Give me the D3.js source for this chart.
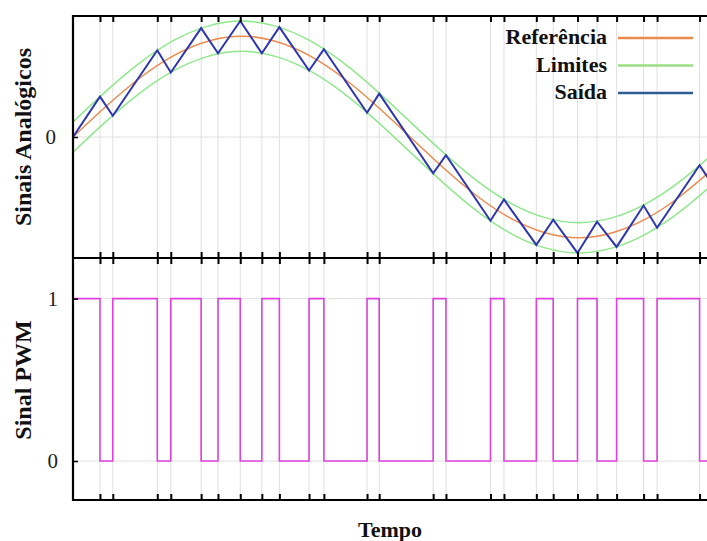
<!DOCTYPE html>
<html>
<head>
<meta charset="utf-8">
<script src="https://cdn.jsdelivr.net/npm/d3@7"></script>
<style>
  body { margin: 0; background: #fff; }
</style>
</head>
<body>
<svg id="chart" width="707" height="541"></svg>
<script>
// tempo em periodos da senoide de referencia
var refT = [0, 0.05, 0.1, 0.15, 0.2, 0.25, 0.3, 0.35, 0.4, 0.45, 0.5, 0.55, 0.6, 0.65, 0.7, 0.75, 0.8, 0.85, 0.9, 0.95];
var refY = [0, 0.31, 0.59, 0.81, 0.95, 1.0, 0.95, 0.81, 0.59, 0.31, 0, -0.31, -0.59, -0.81, -0.95, -1.0, -0.95, -0.81, -0.59, -0.31];
var limitBand = 0.15;

// instantes de comutacao (linhas de grade verticais)
var switchT = [0.040, 0.059, 0.125, 0.145, 0.190, 0.215, 0.248, 0.280, 0.306, 0.350, 0.372, 0.436, 0.454,
               0.534, 0.553, 0.619, 0.639, 0.687, 0.712, 0.748, 0.777, 0.806, 0.846, 0.866, 0.929];

// saida (vertices da onda triangular)
var outT = [0, 0.040, 0.059, 0.125, 0.145, 0.190, 0.215, 0.248, 0.280, 0.306, 0.350, 0.372, 0.436, 0.454,
            0.534, 0.553, 0.619, 0.639, 0.687, 0.712, 0.748, 0.777, 0.806, 0.846, 0.866, 0.929, 0.945];
var outY = [0, 0.40, 0.21, 0.86, 0.64, 1.08, 0.83, 1.15, 0.83, 1.09, 0.66, 0.87, 0.24, 0.43,
            -0.36, -0.18, -0.83, -0.62, -1.07, -0.82, -1.15, -0.84, -1.09, -0.68, -0.90, -0.28, -0.44];

// sinal PWM: nivel a partir de cada instante
var pwmT = [0, 0.040, 0.059, 0.125, 0.145, 0.190, 0.215, 0.248, 0.280, 0.306, 0.350, 0.372, 0.436, 0.454,
            0.534, 0.553, 0.619, 0.639, 0.687, 0.712, 0.748, 0.777, 0.806, 0.846, 0.866, 0.929, 0.945];
var pwmY = [1, 0, 1, 0, 1, 0, 1, 0, 1, 0, 1, 0, 1, 0,
            1, 0, 1, 0, 1, 0, 1, 0, 1, 0, 1, 0, 0];

var topTicks = [0];
var botTicks = [0, 1];
var legendNames = ["Referência", "Limites", "Saída"];
var legendColors = ["#ec8a4c", "#9cdc84", "#2f5d92"];

var serif = "Liberation Serif";

var svg = d3.select("#chart");
svg.append("rect").attr("width", 707).attr("height", 541).attr("fill", "#fff");

var left = 73, right = 709;
var top1 = 16, bot1 = 258, top2 = 258, bot2 = 500;

var x = d3.scaleLinear().domain([0, 0.943]).range([left, right]);
var y1 = d3.scaleLinear().domain([-1.2, 1.2]).range([bot1, top1]);
var y2 = d3.scaleLinear().domain([-0.24, 1.25]).range([bot2, top2]);

var defs = svg.append("defs");
defs.append("clipPath").attr("id", "clip1").append("rect")
  .attr("x", left).attr("y", top1).attr("width", right - left).attr("height", bot1 - top1);
defs.append("clipPath").attr("id", "clip2").append("rect")
  .attr("x", left).attr("y", top2).attr("width", right - left).attr("height", bot2 - top2);

// grade vertical
svg.append("g").selectAll("line")
  .data(switchT)
  .enter().append("line")
  .attr("x1", function(d) { return x(d); })
  .attr("x2", function(d) { return x(d); })
  .attr("y1", top1).attr("y2", bot2)
  .attr("stroke", "#e0e0e0").attr("stroke-width", 1);

// grade horizontal
svg.append("g").selectAll("line")
  .data(topTicks)
  .enter().append("line")
  .attr("x1", left).attr("x2", right)
  .attr("y1", function(d) { return y1(d); }).attr("y2", function(d) { return y1(d); })
  .attr("stroke", "#e0e0e0").attr("stroke-width", 1);
svg.append("g").selectAll("line")
  .data(botTicks)
  .enter().append("line")
  .attr("x1", left).attr("x2", right)
  .attr("y1", function(d) { return y2(d); }).attr("y2", function(d) { return y2(d); })
  .attr("stroke", "#e0e0e0").attr("stroke-width", 1);

// curvas analogicas
var refData = refT.map(function(t, i) { return {t: t, v: refY[i]}; });
var sineLine = function(off) {
  return d3.line()
    .x(function(d) { return x(d.t); })
    .y(function(d) { return y1(d.v + off); })
    .curve(d3.curveNatural);
};

var g1 = svg.append("g").attr("clip-path", "url(#clip1)");
g1.append("path").datum(refData).attr("d", sineLine(limitBand))
  .attr("fill", "none").attr("stroke", "#8ee88a").attr("stroke-width", 1.4);
g1.append("path").datum(refData).attr("d", sineLine(-limitBand))
  .attr("fill", "none").attr("stroke", "#8ee88a").attr("stroke-width", 1.4);
g1.append("path").datum(refData).attr("d", sineLine(0))
  .attr("fill", "none").attr("stroke", "#ec8a4c").attr("stroke-width", 1.5);

var outData = outT.map(function(t, i) { return {t: t, v: outY[i]}; });
g1.append("path").datum(outData)
  .attr("d", d3.line().x(function(d) { return x(d.t); }).y(function(d) { return y1(d.v); }))
  .attr("fill", "none").attr("stroke", "#2d36b0").attr("stroke-width", 2)
  .attr("stroke-linejoin", "miter");

// PWM
var pwmData = pwmT.map(function(t, i) { return {t: t, v: pwmY[i]}; });
svg.append("g").attr("clip-path", "url(#clip2)")
  .append("path").datum(pwmData)
  .attr("d", d3.line().x(function(d) { return x(d.t); }).y(function(d) { return y2(d.v); }).curve(d3.curveStepAfter))
  .attr("fill", "none").attr("stroke", "#e040e0").attr("stroke-width", 1.6);

// ticks no eixo x (para dentro)
var tickAxis = function(axis) {
  return axis(x).tickValues(switchT).tickSize(6).tickFormat("");
};
var placeTicks = function(axis, yy) {
  var a = svg.append("g").attr("transform", "translate(0," + yy + ")").call(tickAxis(axis));
  a.select(".domain").remove();
  a.selectAll("line").attr("stroke", "#000").attr("stroke-width", 2);
};
placeTicks(d3.axisBottom, top1);
placeTicks(d3.axisTop, bot1);
placeTicks(d3.axisBottom, top2);
placeTicks(d3.axisTop, bot2);

// eixos y
var yAx1 = svg.append("g").attr("transform", "translate(" + left + ",0)")
  .call(d3.axisLeft(y1).tickValues(topTicks).tickFormat(d3.format("d")).tickSizeInner(-5).tickSizeOuter(0).tickPadding(17));
var yAx2 = svg.append("g").attr("transform", "translate(" + left + ",0)")
  .call(d3.axisLeft(y2).tickValues(botTicks).tickFormat(d3.format("d")).tickSizeInner(-5).tickSizeOuter(0).tickPadding(15));
[yAx1, yAx2].forEach(function(a) {
  a.select(".domain").remove();
  a.attr("font-family", serif).attr("font-size", 21);
  a.selectAll("line").attr("stroke", "#000").attr("stroke-width", 1.5);
  a.selectAll("text").attr("fill", "#222");
});

// bordas
var border = svg.append("g").attr("stroke", "#000").attr("stroke-width", 2.2).attr("fill", "none");
border.append("line").attr("x1", left).attr("x2", right).attr("y1", top1).attr("y2", top1);
border.append("line").attr("x1", left).attr("x2", right).attr("y1", bot1).attr("y2", bot1);
border.append("line").attr("x1", left).attr("x2", right).attr("y1", bot2).attr("y2", bot2);
border.append("line").attr("x1", left).attr("x2", left).attr("y1", top1 - 1).attr("y2", bot2 + 1);

// legenda
var leg = svg.append("g").selectAll("g")
  .data(legendNames)
  .enter().append("g")
  .attr("transform", function(d, i) { return "translate(0," + (38 + i * 27.5) + ")"; });
leg.append("text")
  .attr("x", 607).attr("y", 6)
  .attr("text-anchor", "end")
  .attr("font-family", serif)
  .attr("font-weight", "bold").attr("font-size", 22).attr("fill", "#111")
  .text(function(d) { return d; });
leg.append("line")
  .attr("x1", 618).attr("x2", 693).attr("y1", 0).attr("y2", 0)
  .attr("stroke", function(d, i) { return legendColors[i]; })
  .attr("stroke-width", 2.5);

// titulos
svg.append("text")
  .attr("transform", "translate(31,137) rotate(-90)")
  .attr("text-anchor", "middle")
  .attr("font-family", serif)
  .attr("font-weight", "bold").attr("font-size", 24).attr("fill", "#111")
  .text("Sinais Analógicos");
svg.append("text")
  .attr("transform", "translate(31,380) rotate(-90)")
  .attr("text-anchor", "middle")
  .attr("font-family", serif)
  .attr("font-weight", "bold").attr("font-size", 24).attr("fill", "#111")
  .text("Sinal PWM");
svg.append("text")
  .attr("x", 390).attr("y", 537)
  .attr("text-anchor", "middle")
  .attr("font-family", serif)
  .attr("font-weight", "bold").attr("font-size", 22).attr("fill", "#111")
  .text("Tempo");
</script>
</body>
</html>
